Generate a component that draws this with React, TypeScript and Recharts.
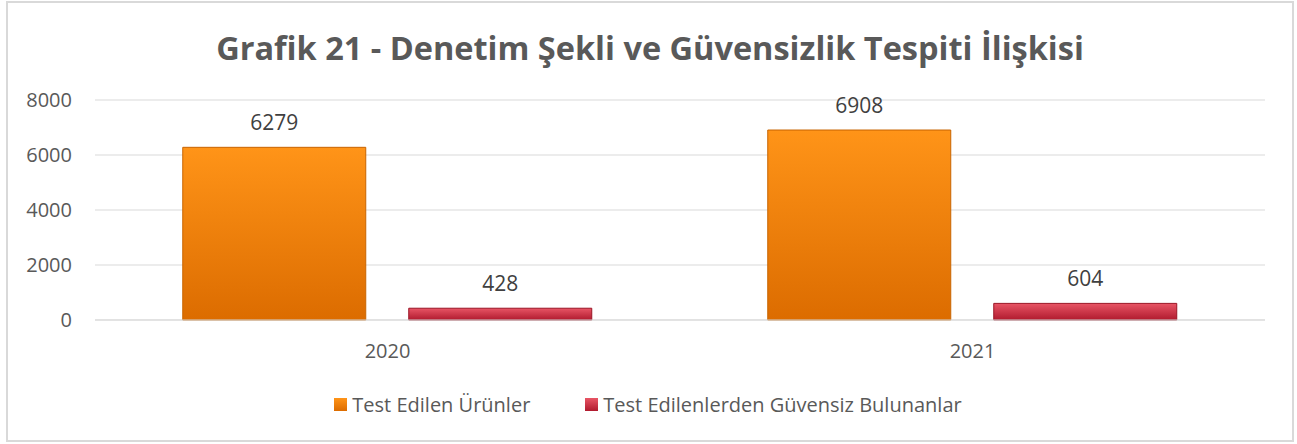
import { BarChart, Bar, XAxis, YAxis, CartesianGrid, LabelList } from "recharts";

const years = ["2020", "2021"];
const tested = [6279, 6908];
const unsafe = [428, 604];
const yTicks = [0, 2000, 4000, 6000, 8000];

const TITLE = "Grafik 21 - Denetim Şekli ve Güvensizlik Tespiti İlişkisi";
const SERIES_A = "Test Edilen Ürünler";
const SERIES_B = "Test Edilenlerden Güvensiz Bulunanlar";

const FONT = "'Open Sans', 'Noto Sans', sans-serif";

export default function App() {
  const data = years.map((year, i) => ({
    year,
    tested: tested[i],
    unsafe: unsafe[i],
  }));

  return (
    <div
      style={{
        position: "absolute",
        left: 6,
        top: 1,
        width: 1288,
        height: 441,
        boxSizing: "border-box",
        border: "2px solid #d9d9d9",
        background: "#fff",
        fontFamily: FONT,
      }}
    >
      <div
        style={{
          position: "absolute",
          top: 22,
          left: 0,
          width: "100%",
          textAlign: "center",
          fontSize: 32.5,
          fontWeight: 700,
          color: "#595959",
        }}
      >
        {TITLE}
      </div>
      <div style={{ position: "absolute", top: 0, left: 0 }}>
        <BarChart
          width={1284}
          height={437}
          data={data}
          margin={{ top: 97, right: 27, bottom: 80, left: 0 }}
          barCategoryGap="15%"
          barGap={43}
        >
          <defs>
            <linearGradient id="gOrange" x1="0" y1="0" x2="0" y2="1">
              <stop offset="0%" stopColor="#ff9418" />
              <stop offset="100%" stopColor="#dc6c00" />
            </linearGradient>
            <linearGradient id="gRed" x1="0" y1="0" x2="0" y2="1">
              <stop offset="0%" stopColor="#e85565" />
              <stop offset="100%" stopColor="#b01a2e" />
            </linearGradient>
          </defs>
          <CartesianGrid vertical={false} stroke="#d9d9d9" />
          <XAxis
            dataKey="year"
            axisLine={{ stroke: "#d9d9d9" }}
            tickLine={false}
            height={40}
            tickMargin={18}
            tick={{ fontSize: 20, fill: "#595959", fontFamily: FONT }}
          />
          <YAxis
            domain={[0, 8000]}
            ticks={yTicks}
            width={87}
            axisLine={false}
            tickLine={false}
            tickMargin={17}
            tick={{ fontSize: 20, fill: "#595959", fontFamily: FONT }}
          />
          <Bar
            dataKey="tested"
            name={SERIES_A}
            fill="url(#gOrange)"
            stroke="#c86400"
            strokeWidth={1}
            isAnimationActive={false}
          >
            <LabelList
              dataKey="tested"
              position="top"
              offset={17}
              style={{ fontSize: 21, fill: "#404040", fontFamily: FONT }}
            />
          </Bar>
          <Bar
            dataKey="unsafe"
            name={SERIES_B}
            fill="url(#gRed)"
            stroke="#9a1424"
            strokeWidth={1}
            isAnimationActive={false}
          >
            <LabelList
              dataKey="unsafe"
              position="top"
              offset={17}
              style={{ fontSize: 21, fill: "#404040", fontFamily: FONT }}
            />
          </Bar>
        </BarChart>
      </div>
      <div
        style={{
          position: "absolute",
          top: 388,
          left: -2,
          width: "100%",
          display: "flex",
          justifyContent: "center",
          gap: 55,
          fontSize: 20,
          color: "#595959",
        }}
      >
        {[
          { label: SERIES_A, g: "linear-gradient(#ff9418, #dc6c00)" },
          { label: SERIES_B, g: "linear-gradient(#e85565, #b01a2e)" },
        ].map((item) => (
          <div key={item.label} style={{ display: "flex", alignItems: "center" }}>
            <span
              style={{
                display: "inline-block",
                width: 13,
                height: 13,
                marginRight: 5,
                background: item.g,
              }}
            />
            {item.label}
          </div>
        ))}
      </div>
    </div>
  );
}
